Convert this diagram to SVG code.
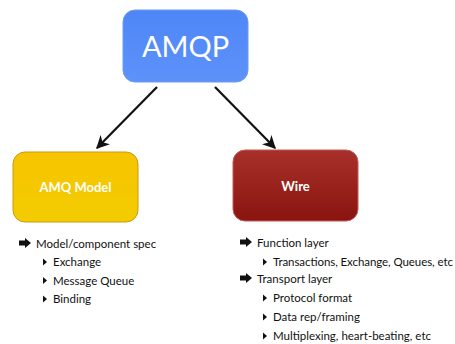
<svg xmlns="http://www.w3.org/2000/svg" width="455" height="344" viewBox="0 0 455 344">
<defs>
<linearGradient id="gBlue" x1="0" y1="0" x2="0" y2="1"><stop offset="0" stop-color="#4f86f7"/><stop offset="1" stop-color="#5d92fa"/></linearGradient>
<linearGradient id="gYellow" x1="0" y1="0" x2="0" y2="1"><stop offset="0" stop-color="#f6c400"/><stop offset="1" stop-color="#f3cc00"/></linearGradient>
<linearGradient id="gRed" x1="0" y1="0" x2="0" y2="1"><stop offset="0" stop-color="#a8302a"/><stop offset="1" stop-color="#8a1410"/></linearGradient>
<marker id="ah" viewBox="0 0 10 10" refX="9" refY="5" markerWidth="6" markerHeight="6" orient="auto" markerUnits="strokeWidth">
<path d="M0,0 L10,5 L0,10 L3,5 Z" fill="#111"/>
</marker>
</defs>
<style>
.lbl{font-family:Lato,"Open Sans","Liberation Sans",sans-serif;fill:#fff;text-anchor:middle}
.li{font-family:Lato,"Open Sans","Liberation Sans",sans-serif;font-size:11.5px;fill:#111}
.conn{stroke:#111;stroke-width:2.2;fill:none;marker-end:url(#ah)}
.tri{fill:#111}
</style>
<rect width="455" height="344" fill="#fff"/>
<g id="connectors">
<line class="conn" x1="157" y1="87" x2="97" y2="148"/>
<line class="conn" x1="215" y1="87" x2="275" y2="148"/>
</g>
<g id="amqp">
<rect x="123" y="10" width="125" height="72" rx="12" fill="url(#gBlue)" stroke="#6b9bf5" stroke-width="1"/>
<text class="lbl" x="185.5" y="57" font-size="29">AMQP</text>
</g>
<g id="amqmodel">
<rect x="13" y="152" width="125" height="70" rx="12" fill="url(#gYellow)" stroke="#c99b10" stroke-width="1"/>
<text class="lbl" x="75.5" y="191.5" font-size="13" font-weight="bold">AMQ Model</text>
</g>
<g id="wire">
<rect x="233" y="150" width="125" height="71" rx="12" fill="url(#gRed)" stroke="#c25a55" stroke-width="1"/>
<text class="lbl" x="295.5" y="191" font-size="13" font-weight="bold">Wire</text>
</g>
<g id="leftlist">
<path class="tri" d="M19,240.5 h6 v-2.5 l6,5 l-6,5 v-2.5 h-6 z"/>
<text class="li" x="36" y="248">Model/component spec</text>
<path class="tri" d="M43,258.5 l4,3.5 l-4,3.5 z"/>
<text class="li" x="53" y="266">Exchange</text>
<path class="tri" d="M43,277 l4,3.5 l-4,3.5 z"/>
<text class="li" x="53" y="285">Message Queue</text>
<path class="tri" d="M43,295.5 l4,3.5 l-4,3.5 z"/>
<text class="li" x="53" y="303">Binding</text>
</g>
<g id="rightlist">
<path class="tri" d="M240,239.5 h6 v-2.5 l6,5 l-6,5 v-2.5 h-6 z"/>
<text class="li" x="257" y="247">Function layer</text>
<path class="tri" d="M263,258.5 l4,3.5 l-4,3.5 z"/>
<text class="li" x="273" y="266" textLength="180" lengthAdjust="spacing">Transactions, Exchange, Queues, etc</text>
<path class="tri" d="M240,275.5 h6 v-2.5 l6,5 l-6,5 v-2.5 h-6 z"/>
<text class="li" x="257" y="283">Transport layer</text>
<path class="tri" d="M263,294.5 l4,3.5 l-4,3.5 z"/>
<text class="li" x="273" y="302">Protocol format</text>
<path class="tri" d="M263,313.5 l4,3.5 l-4,3.5 z"/>
<text class="li" x="273" y="321">Data rep/framing</text>
<path class="tri" d="M263,332.5 l4,3.5 l-4,3.5 z"/>
<text class="li" x="273" y="340">Multiplexing, heart-beating, etc</text>
</g>
</svg>
